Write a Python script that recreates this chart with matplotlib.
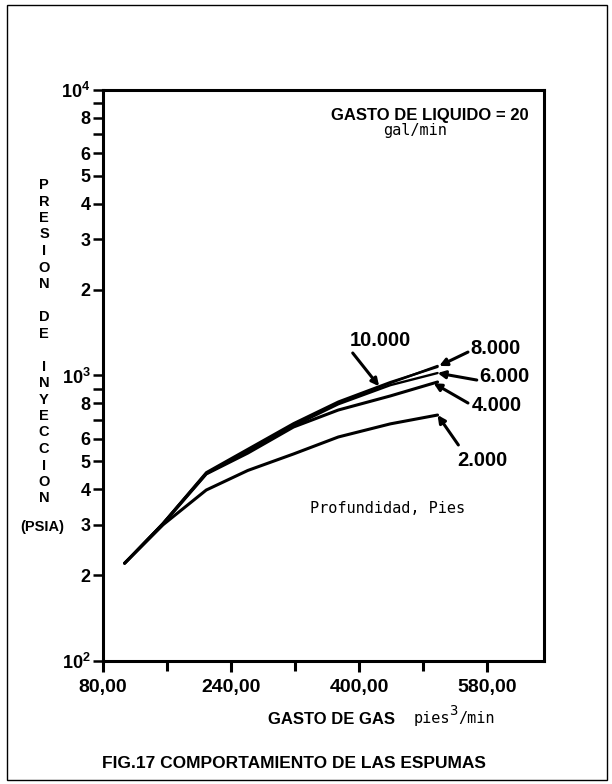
import numpy as np
import matplotlib
matplotlib.use("Agg")
import matplotlib.pyplot as plt
from matplotlib.ticker import FixedLocator, FixedFormatter
from matplotlib.patches import Rectangle

plt.rcParams['font.family'] = ['Liberation Sans', 'DejaVu Sans']
plt.rcParams['mathtext.fontset'] = 'custom'
plt.rcParams['mathtext.rm'] = 'Liberation Sans:bold'
plt.rcParams['mathtext.bf'] = 'Liberation Sans:bold'

# gasto de gas (pies3/min) y presion de inyeccion (psia) por profundidad
gas = [107, 155, 209, 261, 318, 374, 439, 498]
p10000 = [220, 304, 458, 553, 680, 810, 948, 1072]
p8000 = [220, 304, 455, 548, 671, 801, 941, 1080]
p6000 = [220, 302, 452, 543, 665, 793, 925, 1020]
p4000 = [220, 302, 452, 535, 660, 757, 848, 949]
p2000 = [220, 300, 397, 465, 531, 609, 677, 727]

x_ticks = [80, 240, 400, 560]
x_ticklabels = ['80,00', '240,00', '400,00', '580,00']
x_minor = [160, 320, 480]
y_major = [100, 1000, 10000]
y_majorlabels = [r'$10^{2}$', r'$10^{3}$', r'$10^{4}$']
y_minor = [m * d for d in (100, 1000) for m in range(2, 10)]
y_minorlabels = ['' if m in (7, 9) else str(m) for d in (100, 1000) for m in range(2, 10)]

fig = plt.figure(figsize=(6.12, 7.84), dpi=100)
ax = fig.add_axes([0.1683, 0.1569, 0.7206, 0.7283])

ax.plot(gas, p2000, color='black', lw=2.2, solid_capstyle='round')
ax.plot(gas, p4000, color='black', lw=2.2, solid_capstyle='round')
ax.plot(gas, p6000, color='black', lw=1.7, solid_capstyle='round')
ax.plot(gas, p8000, color='black', lw=1.7, solid_capstyle='round')
ax.plot(gas, p10000, color='black', lw=1.7, solid_capstyle='round')

ax.set_yscale('log')
ax.set_xlim(80, 631)
ax.set_ylim(100, 10000)

ax.xaxis.set_major_locator(FixedLocator(x_ticks))
ax.xaxis.set_major_formatter(FixedFormatter(x_ticklabels))
ax.xaxis.set_minor_locator(FixedLocator(x_minor))
ax.yaxis.set_major_locator(FixedLocator(y_major))
ax.yaxis.set_major_formatter(FixedFormatter(y_majorlabels))
ax.yaxis.set_minor_locator(FixedLocator(y_minor))
ax.yaxis.set_minor_formatter(FixedFormatter(y_minorlabels))

ax.tick_params(axis='x', which='major', direction='out', length=8, width=2.2,
               labelsize=14, pad=5)
ax.tick_params(axis='x', which='minor', direction='out', length=7, width=2.2)
ax.tick_params(axis='y', which='both', direction='out', length=7, width=1.8,
               labelsize=13, pad=2)
for lab in ax.get_xticklabels() + ax.get_yticklabels() + ax.get_yticklabels(minor=True):
    lab.set_fontweight('bold')

for s in ax.spines.values():
    s.set_linewidth(2.2)

# etiquetas de profundidad con flechas
def tip(series, xv):
    return 10 ** np.interp(xv, gas, np.log10(series))

arrow = dict(arrowstyle='-|>', lw=2.2, color='black', mutation_scale=11,
             shrinkA=0, shrinkB=0)
ax.annotate('', xy=(425, tip(p10000, 425)), xytext=(392, 1199), arrowprops=arrow)
ax.annotate('', xy=(gas[-1] + 2, p8000[-1]), xytext=(536, 1208), arrowprops=arrow)
ax.annotate('', xy=(gas[-1], p6000[-1]), xytext=(547, 964), arrowprops=arrow)
ax.annotate('', xy=(gas[-1] - 5, tip(p4000, gas[-1] - 5)), xytext=(536, 801), arrowprops=arrow)
ax.annotate('', xy=(gas[-1], p2000[-1]), xytext=(524, 571), arrowprops=arrow)

lbl = dict(fontsize=14.5, fontweight='bold', ha='center', va='center')
ax.text(427, 1325, '10.000', **lbl)
ax.text(570, 1248, '8.000', **lbl)
ax.text(582, 989, '6.000', **lbl)
ax.text(572, 782, '4.000', **lbl)
ax.text(554, 502, '2.000', **lbl)

fig.text(0.7026, 0.8533, 'GASTO DE LIQUIDO = 20', fontsize=12, fontweight='bold',
         ha='center', va='center')
fig.text(0.678, 0.833, 'gal/min', fontsize=11, family='DejaVu Sans Mono',
         ha='center', va='center')
fig.text(0.634, 0.351, 'Profundidad, Pies', fontsize=11, family='DejaVu Sans Mono',
         ha='center', va='center')

# titulo vertical del eje y, letra por letra
ylabel = 'PRESION DE INYECCION'
for i, ch in enumerate(ylabel):
    if ch == ' ':
        continue
    fig.text(44 / 612, 1 - (185 + 16.5 * i) / 784, ch, fontsize=10.5,
             fontweight='bold', ha='center', va='center')
fig.text(42 / 612, 1 - 527 / 784, '(PSIA)', fontsize=10.5, fontweight='bold',
         ha='center', va='center')

fig.text(332 / 612, 1 - 719 / 784, 'GASTO DE GAS', fontsize=12, fontweight='bold',
         ha='center', va='center')
# unidades con el exponente algo elevado
mono = dict(fontsize=11, family='DejaVu Sans Mono', va='center')
fig.text(414 / 612, 1 - 719 / 784, 'pies', ha='left', **mono)
fig.text(449 / 612, 1 - 711 / 784, '3', ha='left', fontsize=10,
         family='DejaVu Sans Mono', va='center')
fig.text(458 / 612, 1 - 719 / 784, '/min', ha='left', **mono)

fig.text(294 / 612, 1 - 763 / 784, 'FIG.17 COMPORTAMIENTO DE LAS ESPUMAS',
         fontsize=12.5, fontweight='bold', ha='center', va='center')

fig.patches.append(Rectangle((7 / 612, 4 / 784), 600 / 612, 775 / 784,
                             transform=fig.transFigure, fill=False,
                             edgecolor='black', lw=1.0))

fig.savefig('out.png', dpi=100)
